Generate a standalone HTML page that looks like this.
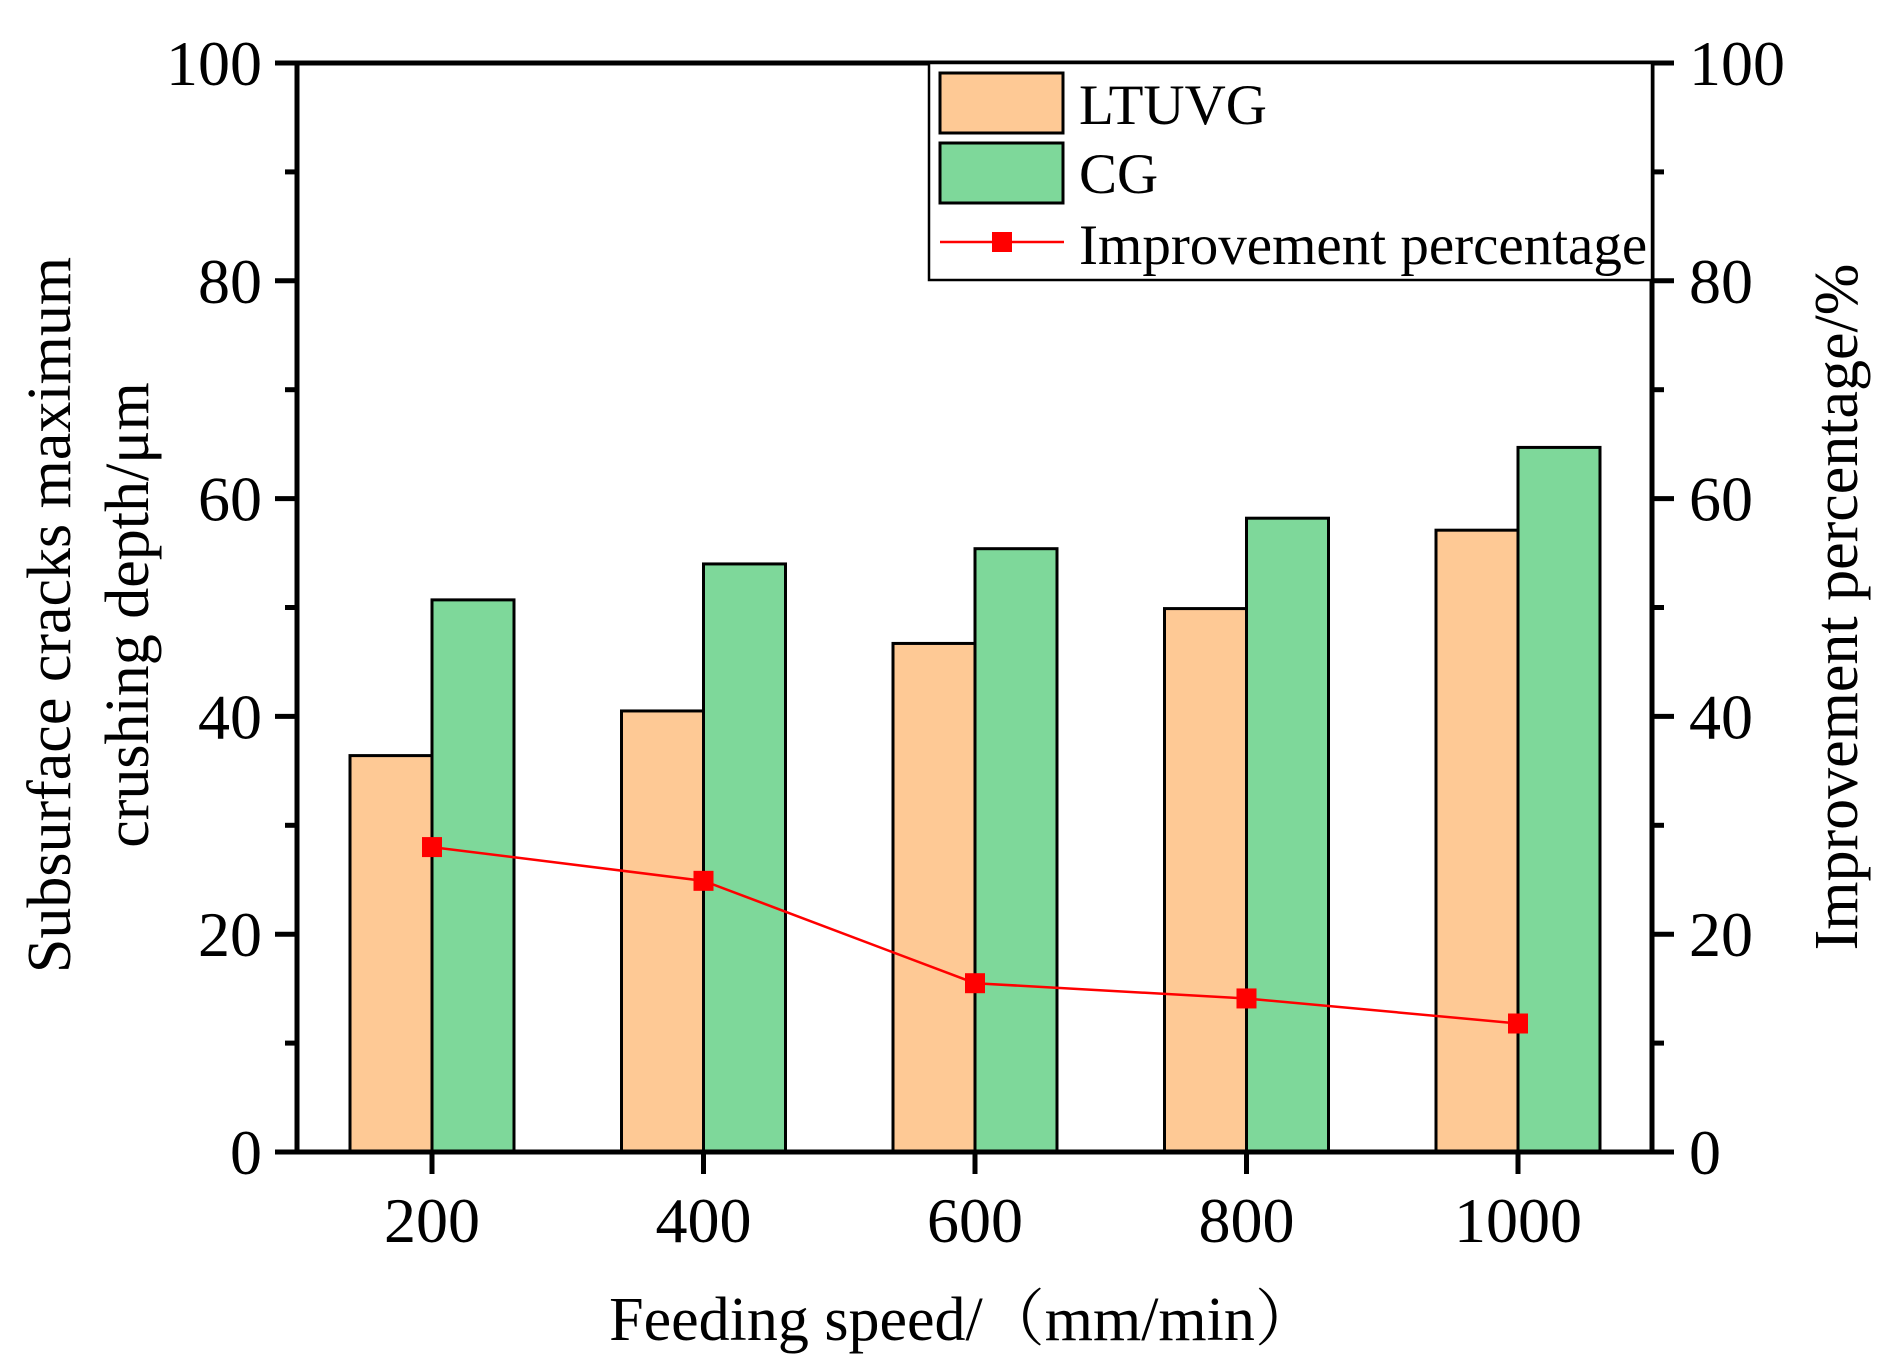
<!DOCTYPE html>
<html><head><meta charset="utf-8"><style>
html,body{margin:0;padding:0;background:#fff;}
svg{display:block;font-family:"Liberation Serif","Noto Serif CJK SC",serif;}
</style></head><body>
<svg id="chart" width="1899" height="1366" viewBox="0 0 1899 1366" xmlns="http://www.w3.org/2000/svg">
<g id="bars"></g>
<g id="line"></g>
<g id="axes"></g>
<g id="legend">
  <rect x="929" y="63" width="723" height="217" fill="#fff" stroke="#000" stroke-width="2.5"/>
  <rect x="940" y="73" width="123" height="60" fill="#FEC995" stroke="#000" stroke-width="3"/>
  <text x="1079" y="124" font-size="57">LTUVG</text>
  <rect x="940" y="143" width="123" height="60" fill="#7ED89A" stroke="#000" stroke-width="3"/>
  <text x="1079" y="193" font-size="57">CG</text>
  <line x1="940" y1="242" x2="1064" y2="242" stroke="#f00" stroke-width="2.5"/>
  <rect x="992" y="232" width="20" height="20" fill="#f00"/>
  <text x="1079" y="264" font-size="57">Improvement percentage</text>
</g>
<text x="963" y="1340" font-size="62" text-anchor="middle">Feeding speed/（mm/min）</text>
<text font-size="62" text-anchor="middle" transform="translate(70,615) rotate(-90)">Subsurface cracks maximum</text>
<text font-size="62" text-anchor="middle" transform="translate(148,615) rotate(-90)">crushing depth/μm</text>
<text font-size="62" text-anchor="middle" transform="translate(1857,607) rotate(-90)">Improvement percentage/%</text>
</svg>
<script>
const categories = ["200","400","600","800","1000"];
const ltuvg = [36.4, 40.5, 46.7, 49.9, 57.1];
const cg = [50.7, 54.0, 55.4, 58.2, 64.7];
const improvement = [28.0, 24.9, 15.5, 14.1, 11.8];
const yTicks = [0,20,40,60,80,100];
const yMinor = [10,30,50,70,90];

const NS = "http://www.w3.org/2000/svg";
const L = 297, R = 1652, T = 63, B = 1152;
const yS = v => B - (v/100)*(B-T);
const rS = v => B - (v/100)*(B-T);
const xS = i => 432 + i*271.5;
const BW = 82;
function mk(tag, attrs, parent){ const e=document.createElementNS(NS,tag); for(const k in attrs) e.setAttribute(k,attrs[k]); parent.appendChild(e); return e; }
const bars=document.getElementById('bars'), line=document.getElementById('line'), axes=document.getElementById('axes');

categories.forEach((c,i)=>{
  const x=xS(i);
  const b1=mk('rect',{x:x-BW,y:yS(ltuvg[i]),width:BW,height:B-yS(ltuvg[i]),fill:'#FEC995',stroke:'#000','stroke-width':3},bars);
  
  
  const b2=mk('rect',{x:x,y:yS(cg[i]),width:BW,height:B-yS(cg[i]),fill:'#7ED89A',stroke:'#000','stroke-width':3},bars);
  
  
});
const pts=improvement.map((v,i)=>xS(i)+','+rS(v)).join(' ');
const pl=mk('polyline',{points:pts,fill:'none',stroke:'#f00','stroke-width':2.5},line);


improvement.forEach((v,i)=>{
  const m=mk('rect',{x:xS(i)-10,y:rS(v)-10,width:20,height:20,fill:'#f00'},line);
  
  
});
mk('line',{x1:275,y1:B,x2:1674,y2:B,stroke:'#000','stroke-width':5},axes);
mk('line',{x1:275,y1:T,x2:1674,y2:T,stroke:'#000','stroke-width':5},axes);
mk('line',{x1:L,y1:T,x2:L,y2:B+2,stroke:'#000','stroke-width':5},axes);
mk('line',{x1:R,y1:T,x2:R,y2:B+2,stroke:'#000','stroke-width':5},axes);
yTicks.forEach(v=>{
  const y=yS(v);
  mk('line',{x1:275,y1:y,x2:L,y2:y,stroke:'#000','stroke-width':5},axes);
  mk('line',{x1:R,y1:y,x2:1674,y2:y,stroke:'#000','stroke-width':5},axes);
  const t1=mk('text',{x:262,y:y+22,'font-size':64,'text-anchor':'end'},axes); t1.textContent=v;
  
  
  const t2=mk('text',{x:1689,y:y+22,'font-size':64},axes); t2.textContent=v;
  
  
});
yMinor.forEach(v=>{
  const y=yS(v);
  mk('line',{x1:285,y1:y,x2:L,y2:y,stroke:'#000','stroke-width':5},axes);
  mk('line',{x1:R,y1:y,x2:1664,y2:y,stroke:'#000','stroke-width':5},axes);
});
categories.forEach((c,i)=>{
  const x=xS(i);
  mk('line',{x1:x,y1:B,x2:x,y2:1174,stroke:'#000','stroke-width':5},axes);
  const t=mk('text',{x:x,y:1242,'font-size':64,'text-anchor':'middle'},axes); t.textContent=c;
  
  
});
</script>
</body></html>
